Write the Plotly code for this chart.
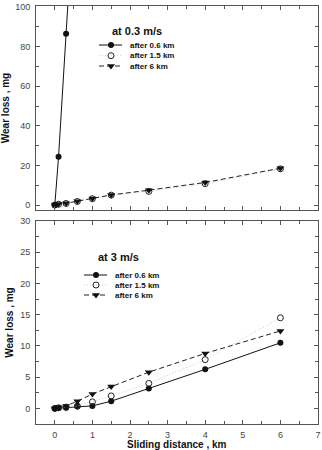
import plotly.graph_objects as go

# ---------------- data ----------------
dist = [0, 0.1, 0.3, 0.6, 1, 1.5, 2.5, 4, 6]

# at 0.3 m/s
top_06_x = [0, 0.1, 0.3, 0.6]
top_06_y = [0.0, 24.4, 86.5, 180.0]
top_15_y = [0.0, 0.4, 0.8, 1.8, 3.2, 5.0, 6.9, 10.8, 18.3]
top_6_y = [0.0, 0.5, 0.9, 1.9, 3.3, 5.1, 7.5, 11.4, 18.6]

# at 3 m/s
bot_06_y = [0.0, 0.05, 0.1, 0.3, 0.4, 1.15, 3.2, 6.25, 10.5]
bot_15_y = [0.0, 0.1, 0.2, 0.37, 1.05, 2.0, 4.0, 7.8, 14.5]
bot_6_y = [0.0, 0.2, 0.4, 1.15, 2.3, 3.5, 5.8, 8.8, 12.4]

series_names = ["after 0.6 km", "after 1.5 km", "after 6 km"]
panel_titles = ["at 0.3 m/s", "at 3 m/s"]
x_title = "Sliding distance , km"
y_title = "Wear loss , mg"

# ---------------- style ----------------
FONT = "Liberation Sans, Arial, sans-serif"
AX = "#555555"
TXT = "#444444"
W, H = 322, 450
ML, MR, MT, MB = 36, 4, 6, 26
top_px = (6, 210)
bot_px = (221, 424)
plot_h = H - MT - MB


def dom(px):
    return [(H - MB - px[1]) / plot_h, (H - MB - px[0]) / plot_h]


styles = [
    dict(mode="lines+markers", line=dict(color="#111111", width=1, dash="solid"),
         marker=dict(symbol="circle", size=6, color="#111111")),
    dict(mode="lines+markers", line=dict(color="#cccccc", width=1, dash="1px,2px"),
         marker=dict(symbol="circle-open", size=6, color="#222222", line=dict(width=1))),
    dict(mode="lines+markers", line=dict(color="#222222", width=1, dash="5px,3px"),
         marker=dict(symbol="triangle-down", size=7, color="#111111")),
]

fig = go.Figure()

# top panel
fig.add_trace(go.Scatter(x=top_06_x, y=top_06_y, xaxis="x", yaxis="y", showlegend=False, **styles[0]))
fig.add_trace(go.Scatter(x=dist, y=top_15_y, xaxis="x", yaxis="y", showlegend=False, **styles[1]))
fig.add_trace(go.Scatter(x=dist, y=top_6_y, xaxis="x", yaxis="y", showlegend=False, **styles[2]))
# bottom panel
fig.add_trace(go.Scatter(x=dist, y=bot_06_y, xaxis="x2", yaxis="y2", showlegend=False, **styles[0]))
fig.add_trace(go.Scatter(x=dist, y=bot_15_y, xaxis="x2", yaxis="y2", showlegend=False, **styles[1]))
fig.add_trace(go.Scatter(x=dist, y=bot_6_y, xaxis="x2", yaxis="y2", showlegend=False, **styles[2]))

# ---------------- manual legends (pixel coordinate overlay axes) ----------------
legend_layout = [
    dict(xa="x3", ya="y3", title_xy=(137, 31), rows=[45, 55.7, 66], x0=99, x1=122, xm=111, xt=128),
    dict(xa="x4", ya="y4", title_xy=(118, 257), rows=[275, 285, 295], x0=84, x1=107, xm=96, xt=113),
]
annotations = []
for li, lg in enumerate(legend_layout):
    for si, name in enumerate(series_names):
        st = styles[si]
        yy = lg["rows"][si]
        fig.add_trace(go.Scatter(x=[lg["x0"], lg["x1"]], y=[yy, yy], xaxis=lg["xa"], yaxis=lg["ya"],
                                 mode="lines", line=st["line"], showlegend=False, hoverinfo="skip"))
        fig.add_trace(go.Scatter(x=[lg["xm"]], y=[yy], xaxis=lg["xa"], yaxis=lg["ya"],
                                 mode="markers", marker=st["marker"], showlegend=False, hoverinfo="skip"))
        annotations.append(dict(x=lg["xt"], y=yy, xref=lg["xa"], yref=lg["ya"], text="<b>%s</b>" % name,
                                showarrow=False, xanchor="left", yanchor="middle",
                                font=dict(family=FONT, size=8, color="#111111")))
    annotations.append(dict(x=lg["title_xy"][0], y=lg["title_xy"][1], xref=lg["xa"], yref=lg["ya"],
                            text="<b>%s</b>" % panel_titles[li], showarrow=False,
                            xanchor="center", yanchor="middle",
                            font=dict(family=FONT, size=11, color="#111111")))

# x-axis title placed as a paper annotation below the tick labels
annotations.append(dict(x=0.5, y=(H - MB - 444.5) / plot_h, xref="paper", yref="paper",
                        text="<b>%s</b>" % x_title, showarrow=False, xanchor="center", yanchor="middle",
                        borderpad=0, font=dict(family=FONT, size=10, color="#111111")))

axis_common = dict(showline=True, linecolor=AX, linewidth=1, mirror="ticks", ticks="inside",
                   ticklen=4, tickcolor=AX, showgrid=False, zeroline=False,
                   tickfont=dict(family=FONT, size=9, color=TXT))

fig.update_layout(
    width=W, height=H, margin=dict(l=ML, r=MR, t=MT, b=MB, autoexpand=False),
    paper_bgcolor="white", plot_bgcolor="white", showlegend=False,
    xaxis=dict(domain=[0, 1], anchor="y", range=[-0.5, 7], dtick=1, showticklabels=False,
               minor=dict(ticks="inside", dtick=0.5, ticklen=3, tickcolor=AX), **axis_common),
    yaxis=dict(domain=dom(top_px), anchor="x", range=[-2.5, 100.5], dtick=20, ticklabelstandoff=3,
               minor=dict(ticks="inside", dtick=10, ticklen=3, tickcolor=AX),
               title=dict(text="<b>%s</b>" % y_title, font=dict(family=FONT, size=10, color="#111111"),
                          standoff=4), **axis_common),
    xaxis2=dict(domain=[0, 1], anchor="y2", range=[-0.5, 7], dtick=1, ticklabelstandoff=2,
                minor=dict(ticks="inside", dtick=0.5, ticklen=3, tickcolor=AX), **axis_common),
    yaxis2=dict(domain=dom(bot_px), anchor="x2", range=[-2.5, 30], dtick=5, ticklabelstandoff=3,
                minor=dict(ticks="inside", dtick=2.5, ticklen=3, tickcolor=AX),
                title=dict(text="<b>%s</b>" % y_title, font=dict(family=FONT, size=10, color="#111111"),
                           standoff=4), **axis_common),
    xaxis3=dict(overlaying="x", anchor="y3", range=[ML, W - MR], visible=False),
    yaxis3=dict(overlaying="y", anchor="x3", range=[top_px[1], top_px[0]], visible=False),
    xaxis4=dict(overlaying="x2", anchor="y4", range=[ML, W - MR], visible=False),
    yaxis4=dict(overlaying="y2", anchor="x4", range=[bot_px[1], bot_px[0]], visible=False),
    annotations=annotations,
)

fig.write_html("out.html")
